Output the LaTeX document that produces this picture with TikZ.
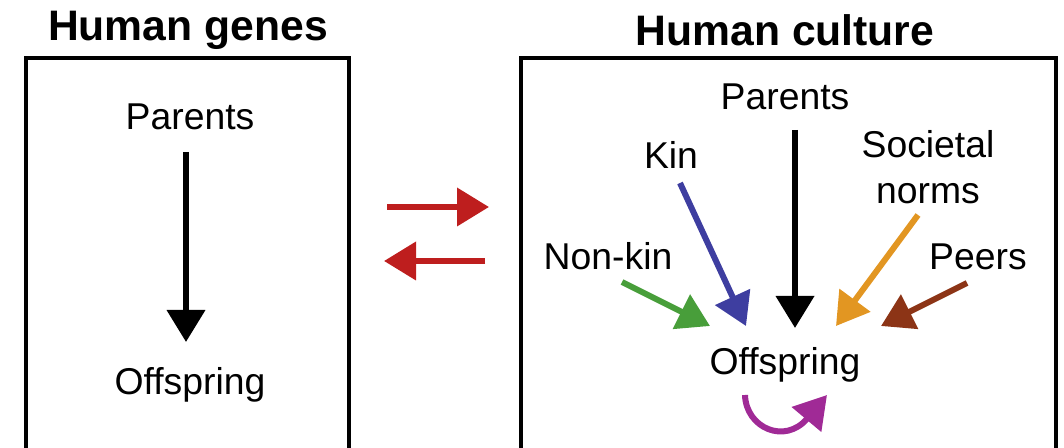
\documentclass[tikz,border=0pt]{standalone}
\usepackage{fontspec}
\setmainfont{Liberation Sans}
\usepackage{xcolor}
\usetikzlibrary{arrows.meta}
\usetikzlibrary{calc}
\usetikzlibrary{positioning}

\definecolor{arrred}{RGB}{190,30,30}
\definecolor{kinblue}{RGB}{62,62,160}
\definecolor{nonkingreen}{RGB}{72,158,58}
\definecolor{normorange}{RGB}{226,150,34}
\definecolor{peerbrown}{RGB}{140,52,22}
\definecolor{selfpurple}{RGB}{160,42,150}

\begin{document}
\begin{tikzpicture}[x=0.75pt,y=-0.75pt,-{Triangle[length=24pt,width=28pt]},line width=4.5pt]
 				 \tikzstyle{lbl}=[inner sep=0pt,font=\fontsize{28}{32}\selectfont]
 				 \tikzstyle{ttl}=[inner sep=0pt,font=\fontsize{32}{36}\selectfont\bfseries]
 				 \tikzstyle{frame}=[draw,-,line width=3.5pt]
			\useasboundingbox (0,0) rectangle (1064,448);
			\clip (0,0) rectangle (1064,448);

			% genes
			\node[ttl]  (gtitle) at (188,30) {Human genes};
			\draw[frame] (26,58) rectangle (349,460);
			\node[lbl]  (gpar) at (190,117) {Parents};
			\node[lbl]  (goff) at (190,385) {Offspring};
			\coordinate (g1) at (186,152);
			\coordinate (g2) at (186,342);
			\draw (g1) -- (g2);

			% between
			\coordinate (r1) at (387,207);
			\coordinate (r2) at (489,207);
			\coordinate (l1) at (485,261);
			\coordinate (l2) at (384,261);
			\draw[arrred] (r1) -- (r2);
			\draw[arrred] (l1) -- (l2);

			% culture
			\node[ttl]  (ctitle) at (785,30) {Human culture};
			\draw[frame] (521,58) rectangle (1056,460);
			\node[lbl]  (cpar) at (785,97) {Parents};
			\node[lbl]  (kin) at (671,155) {Kin};
			\node[lbl,align=center,font=\fontsize{28}{34}\selectfont]  (norms) at (928,167) {Societal\\norms};
			\node[lbl]  (nonkin) at (608,256) {Non-kin};
			\node[lbl]  (peers) at (978,257) {Peers};
			\node[lbl]  (coff) at (785,365) {Offspring};

			\coordinate (p1) at (795,130);
			\coordinate (p2) at (795,328);
			\coordinate (k1) at (680,183);
			\coordinate (k2) at (746,326);
			\coordinate (n1) at (622,282);
			\coordinate (n2) at (710,326);
			\coordinate (o1) at (918,215);
			\coordinate (o2) at (836,326);
			\coordinate (e1) at (967,283);
			\coordinate (e2) at (881,326);
			\coordinate (s1) at (745,395);
			\coordinate (s2) at (827,395);

			\draw (p1) -- (p2);
			\draw[kinblue] (k1) -- (k2);
			\draw[nonkingreen] (n1) -- (n2);
			\draw[normorange] (o1) -- (o2);
			\draw[peerbrown] (e1) -- (e2);
			\draw[selfpurple] (s1) .. controls (746,428) and (785,445) .. (s2);
 	\end{tikzpicture}
\end{document}
